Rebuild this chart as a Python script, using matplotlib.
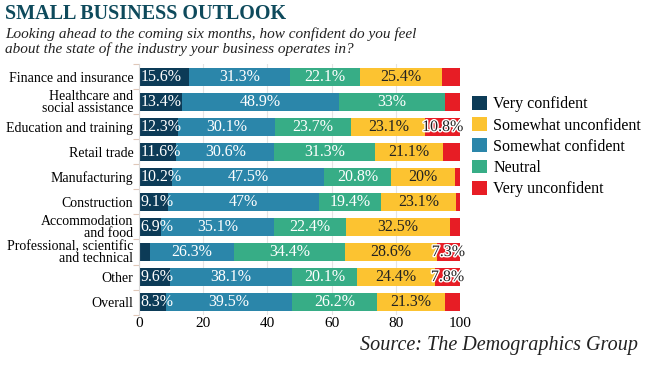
import matplotlib
matplotlib.use("Agg")
import matplotlib.pyplot as plt
import matplotlib.patheffects as pe
import numpy as np

categories = [
    "Finance and insurance",
    "Healthcare and\nsocial assistance",
    "Education and training",
    "Retail trade",
    "Manufacturing",
    "Construction",
    "Accommodation\nand food",
    "Professional, scientific\nand technical",
    "Other",
    "Overall",
]
very_confident = [15.6, 13.4, 12.3, 11.6, 10.2, 9.1, 6.9, 3.4, 9.6, 8.3]
somewhat_confident = [31.3, 48.9, 30.1, 30.6, 47.5, 47.0, 35.1, 26.3, 38.1, 39.5]
neutral = [22.1, 33.0, 23.7, 31.3, 20.8, 19.4, 22.4, 34.4, 20.1, 26.2]
somewhat_unconfident = [25.4, 0.0, 23.1, 21.1, 20.0, 23.1, 32.5, 28.6, 24.4, 21.3]
very_unconfident = [5.6, 4.7, 10.8, 5.4, 1.5, 1.4, 3.1, 7.3, 7.8, 4.7]

series = [
    ("Very confident", very_confident, "#0c3b57"),
    ("Somewhat confident", somewhat_confident, "#2b86aa"),
    ("Neutral", neutral, "#37ad86"),
    ("Somewhat unconfident", somewhat_unconfident, "#fcc331"),
    ("Very unconfident", very_unconfident, "#e71d25"),
]
legend_order = ["Very confident", "Somewhat unconfident", "Somewhat confident",
                "Neutral", "Very unconfident"]

SERIF = ["Liberation Serif", "DejaVu Serif"]
plt.rcParams["font.family"] = SERIF

fig = plt.figure(figsize=(6.5, 3.66), dpi=100)
ax = fig.add_axes([0.2138, 0.1407, 0.4939, 0.6831])

y = np.arange(len(categories))
left = np.zeros(len(categories))
handles = {}
for name, vals, color in series:
    vals = np.array(vals)
    bars = ax.barh(y, vals, left=left, height=0.72, color=color, zorder=2)
    handles[name] = bars
    for i, v in enumerate(vals):
        if v < 5 or (name == "Very unconfident" and v < 7):
            continue
        label = f"{v:g}%"
        if name == "Very confident":
            ax.text(left[i] + 0.5, y[i], label, ha="left", va="center",
                    fontsize=11.5, color="white", zorder=3)
        elif name == "Very unconfident":
            ax.text(left[i] + v / 2, y[i], label, ha="center", va="center",
                    fontsize=11.5, color="#222222", zorder=3,
                    path_effects=[pe.withStroke(linewidth=2, foreground="white")])
        else:
            tc = "#222222" if name == "Somewhat unconfident" else "white"
            ax.text(left[i] + v / 2, y[i], label, ha="center", va="center",
                    fontsize=11.5, color=tc, zorder=3)
    left += vals

ax.set_xlim(0, 100)
ax.set_ylim(len(categories) - 0.5, -0.5)
ax.set_yticks(y)
ax.set_yticklabels(categories, fontsize=10, linespacing=0.85)
ax.set_yticks(np.arange(-0.5, len(categories), 1.0), minor=True)
ax.tick_params(axis="y", which="major", length=0, pad=4)
ax.tick_params(axis="y", which="minor", length=4, color="#e0c8b8", width=0.8)
ax.set_xticks([0, 20, 40, 60, 80, 100])
ax.tick_params(axis="x", length=0, labelsize=11, pad=2)
ax.grid(axis="x", color="#e4e4e4", linewidth=0.8, zorder=0)
for s in ["top", "right", "bottom"]:
    ax.spines[s].set_visible(False)
ax.spines["left"].set_color("#d8d8d8")
ax.spines["left"].set_linewidth(0.8)

fig.legend([handles[n] for n in legend_order], legend_order,
           loc="upper left", bbox_to_anchor=(0.716, 0.755), frameon=False,
           fontsize=11.5, handlelength=0.95, handleheight=0.95,
           handletextpad=0.4, labelspacing=0.3, borderaxespad=0)

fig.text(0.008, 0.99, "SMALL BUSINESS OUTLOOK", ha="left", va="top",
         fontsize=14.5, fontweight="bold", color="#0e4a5c")
fig.text(0.008, 0.925,
         "Looking ahead to the coming six months, how confident do you feel\n"
         "about the state of the industry your business operates in?",
         ha="left", va="top", fontsize=11, style="italic", color="#222222",
         linespacing=1.1)
fig.text(0.982, 0.03, "Source: The Demographics Group", ha="right",
         va="bottom", fontsize=14.5, style="italic", color="#222222")

fig.savefig("out.png", dpi=100)
